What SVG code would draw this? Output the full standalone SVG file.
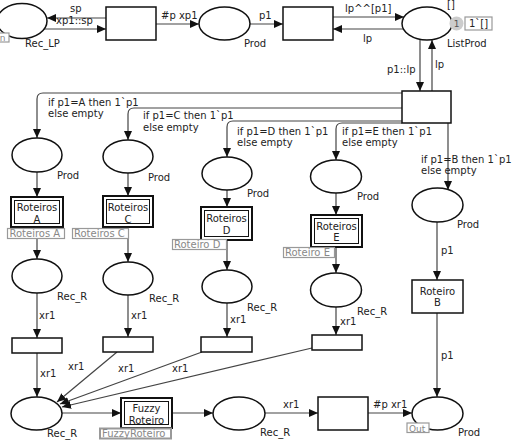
<svg xmlns="http://www.w3.org/2000/svg" width="515" height="441" viewBox="0 0 515 441">
<defs>
<marker id="ah" markerUnits="userSpaceOnUse" markerWidth="10" markerHeight="8" refX="9" refY="4" orient="auto"><path d="M0,0 L9,4 L0,8 z" fill="#111"/></marker>
<style>
text{font-family:"DejaVu Sans","Verdana",sans-serif;font-size:10px;fill:#222}
.pl{fill:#fff;stroke:#111;stroke-width:1.5}
.tr{fill:#fff;stroke:#111;stroke-width:1.5}
.so{fill:#fff;stroke:#111;stroke-width:2}
.si{fill:none;stroke:#111;stroke-width:1}
.arc{fill:none;stroke:#444;stroke-width:1.2;marker-end:url(#ah)}
.tag{fill:#fff;stroke:#999;stroke-width:1.2}
.tt{fill:#888}
.c{text-anchor:middle}
</style>
</defs>
<rect width="515" height="441" fill="#fff"/>
<g id="connectors">
<path class="arc" d="M106,18 H47"/>
<path class="arc" d="M44,29 H106"/>
<path class="arc" d="M156,24 H199"/>
<path class="arc" d="M250,24 H283"/>
<path class="arc" d="M333,17 H404"/>
<path class="arc" d="M403,29 H333"/>
<path class="arc" d="M420,40 V91"/>
<path class="arc" d="M432,91 V40"/>
<path class="arc" d="M402,93 H43 Q37,93 37,99 V138"/>
<path class="arc" d="M402,108 H134 Q128,108 128,114 V140"/>
<path class="arc" d="M402,121 H233 Q227,121 227,127 V157"/>
<path class="arc" d="M402,123 H342 Q336,123 336,129 V160"/>
<path class="arc" d="M448,123 V190"/>
<path class="arc" d="M37,172 V197"/>
<path class="arc" d="M128,173 V196"/>
<path class="arc" d="M227,190 V207"/>
<path class="arc" d="M336,193 V215"/>
<path class="arc" d="M37,227 V259"/>
<path class="arc" d="M128,227 V262"/>
<path class="arc" d="M227,240 V270"/>
<path class="arc" d="M336,247 V273"/>
<path class="arc" d="M437,222 V280"/>
<path class="arc" d="M37,293 V338"/>
<path class="arc" d="M128,295 V337"/>
<path class="arc" d="M227,303 V337"/>
<path class="arc" d="M336,307 V335"/>
<path class="arc" d="M37,353 V397"/>
<path class="arc" d="M117,352 L57,402"/>
<path class="arc" d="M202,352 L60,404"/>
<path class="arc" d="M312,348 L62,407"/>
<path class="arc" d="M437,313 V397"/>
<path class="arc" d="M62,413 H121"/>
<path class="arc" d="M172,413 H213"/>
<path class="arc" d="M265,413 H318"/>
<path class="arc" d="M368,413 H412"/>
<text x="70" y="12">sp</text>
<text x="56" y="24">xp1::sp</text>
<text x="161" y="19">#p xp1</text>
<text x="259" y="19">p1</text>
<text x="345" y="12">lp^^[p1]</text>
<text x="363" y="42">lp</text>
<text x="387" y="73">p1::lp</text>
<text x="435" y="68">lp</text>
<text x="48" y="106">if p1=A then 1`p1</text>
<text x="48" y="117">else empty</text>
<text x="143" y="119">if p1=C then 1`p1</text>
<text x="143" y="131">else empty</text>
<text x="237" y="135">if p1=D then 1`p1</text>
<text x="237" y="146">else empty</text>
<text x="342" y="135">if p1=E then 1`p1</text>
<text x="342" y="146">else empty</text>
<text x="421" y="163">if p1=B then 1`p1</text>
<text x="421" y="174">else empty</text>
<text x="441" y="254">p1</text>
<text x="441" y="359">p1</text>
<text x="39" y="319">xr1</text>
<text x="131" y="319">xr1</text>
<text x="230" y="323">xr1</text>
<text x="340" y="325">xr1</text>
<text x="40" y="377">xr1</text>
<text x="68" y="370">xr1</text>
<text x="118" y="372">xr1</text>
<text x="172" y="372">xr1</text>
<text x="283" y="408">xr1</text>
<text x="373" y="408">#p xr1</text>
</g>
<g id="Rec_LP">
<ellipse class="pl" cx="22" cy="21" rx="25" ry="17.5"/>
<rect class="tag" x="-9" y="33" width="18" height="9"/>
<text class="tt" x="-3" y="41" style="font-size:9px">In</text>
<text x="25" y="47">Rec_LP</text>
</g>
<g id="T1"><rect class="tr" x="106" y="7" width="50" height="33"/></g>
<g id="Prod_top">
<ellipse class="pl" cx="224.5" cy="23.5" rx="25.5" ry="16.5"/>
<text x="244" y="47">Prod</text>
</g>
<g id="T2"><rect class="tr" x="283" y="7" width="50" height="33"/></g>
<g id="ListProd">
<ellipse class="pl" cx="427" cy="23.5" rx="25" ry="16.5"/>
<text x="447" y="8">[]</text>
<circle cx="456.5" cy="23.5" r="7" fill="#ccc"/>
<text class="c" x="456.5" y="27" style="font-size:9px;fill:#555">1</text>
<rect class="tag" x="465" y="17" width="27" height="13"/>
<text x="469" y="27">1`[]</text>
<text x="447" y="47">ListProd</text>
</g>
<g id="T3"><rect class="tr" x="402" y="91" width="49" height="32"/></g>
<g id="ProdA"><ellipse class="pl" cx="37" cy="155" rx="25" ry="17"/><text x="57" y="179">Prod</text></g>
<g id="ProdC"><ellipse class="pl" cx="128" cy="156.5" rx="25" ry="16.5"/><text x="148" y="181">Prod</text></g>
<g id="ProdD"><ellipse class="pl" cx="227" cy="173.5" rx="25" ry="16.5"/><text x="247" y="197">Prod</text></g>
<g id="ProdE"><ellipse class="pl" cx="336" cy="176.5" rx="25.5" ry="16.5"/><text x="357" y="200">Prod</text></g>
<g id="ProdB"><ellipse class="pl" cx="437.5" cy="205" rx="25.5" ry="17"/><text x="457" y="228">Prod</text></g>
<g id="RoteirosA">
<rect class="so" x="11" y="197" width="52" height="30"/><rect class="si" x="14.5" y="200.5" width="45" height="23"/>
<text class="c" x="37" y="211">Roteiros</text><text class="c" x="37" y="223">A</text>
<rect class="tag" x="7.5" y="228.5" width="57" height="10"/><text class="tt" x="9.5" y="237">Roteiros A</text>
</g>
<g id="RoteirosC">
<rect class="so" x="103" y="196" width="50" height="31"/><rect class="si" x="106.5" y="199.5" width="43" height="24"/>
<text class="c" x="128" y="211">Roteiros</text><text class="c" x="128" y="223">C</text>
<rect class="tag" x="72.5" y="228.5" width="56" height="10"/><text class="tt" x="74" y="237">Roteiros C</text>
</g>
<g id="RoteirosD">
<rect class="so" x="201" y="207" width="51" height="33"/><rect class="si" x="204.5" y="210.5" width="44" height="26"/>
<text class="c" x="226.5" y="222">Roteiros</text><text class="c" x="226.5" y="234">D</text>
<rect class="tag" x="172.5" y="239.5" width="54" height="10"/><text class="tt" x="174" y="248">Roteiro D</text>
</g>
<g id="RoteirosE">
<rect class="so" x="311" y="215" width="51" height="32"/><rect class="si" x="314.5" y="218.5" width="44" height="25"/>
<text class="c" x="336.5" y="230">Roteiros</text><text class="c" x="336.5" y="241">E</text>
<rect class="tag" x="283.5" y="247.5" width="51" height="10"/><text class="tt" x="285" y="256">Roteiro E</text>
</g>
<g id="RoteiroB">
<rect class="tr" x="412" y="280" width="51" height="33"/>
<text class="c" x="437.5" y="295">Roteiro</text><text class="c" x="437.5" y="306">B</text>
</g>
<g id="RecRA"><ellipse class="pl" cx="37" cy="276" rx="25" ry="17"/><text x="57" y="300">Rec_R</text></g>
<g id="RecRC"><ellipse class="pl" cx="128" cy="278.5" rx="25" ry="16.5"/><text x="149" y="302">Rec_R</text></g>
<g id="RecRD"><ellipse class="pl" cx="227" cy="286.5" rx="25" ry="16.5"/><text x="247" y="311">Rec_R</text></g>
<g id="RecRE"><ellipse class="pl" cx="336" cy="290" rx="25.5" ry="17"/><text x="357" y="315">Rec_R</text></g>
<g id="TA"><rect class="tr" x="12" y="338" width="50" height="15"/></g>
<g id="TC"><rect class="tr" x="103" y="337" width="50" height="15"/></g>
<g id="TD"><rect class="tr" x="201" y="337" width="51" height="15"/></g>
<g id="TE"><rect class="tr" x="312" y="335" width="50" height="15"/></g>
<g id="RecR"><ellipse class="pl" cx="36.5" cy="413.5" rx="25.5" ry="16.5"/><text x="47" y="437">Rec_R</text></g>
<g id="FuzzyRoteiro">
<rect class="so" x="121" y="398" width="51" height="30"/><rect class="si" x="124.5" y="401.5" width="44" height="23"/>
<text class="c" x="146.5" y="412">Fuzzy</text><text class="c" x="146.5" y="424">Roteiro</text>
<rect x="100" y="428.5" width="71" height="10" fill="#fff" stroke="#999" stroke-width="2"/><text class="tt" x="102" y="437">FuzzyRoteiro</text>
</g>
<g id="RecR2"><ellipse class="pl" cx="239" cy="413.5" rx="26" ry="16.5"/><text x="260" y="436">Rec_R</text></g>
<g id="TF"><rect class="tr" x="318" y="397" width="50" height="33"/></g>
<g id="ProdOut">
<ellipse class="pl" cx="437.5" cy="413.5" rx="25.5" ry="16.5"/>
<rect class="tag" x="407" y="423" width="22" height="9.5"/><text class="tt" x="409" y="431.5" style="font-size:9px">Out</text>
<text x="458" y="436">Prod</text>
</g>
</svg>
